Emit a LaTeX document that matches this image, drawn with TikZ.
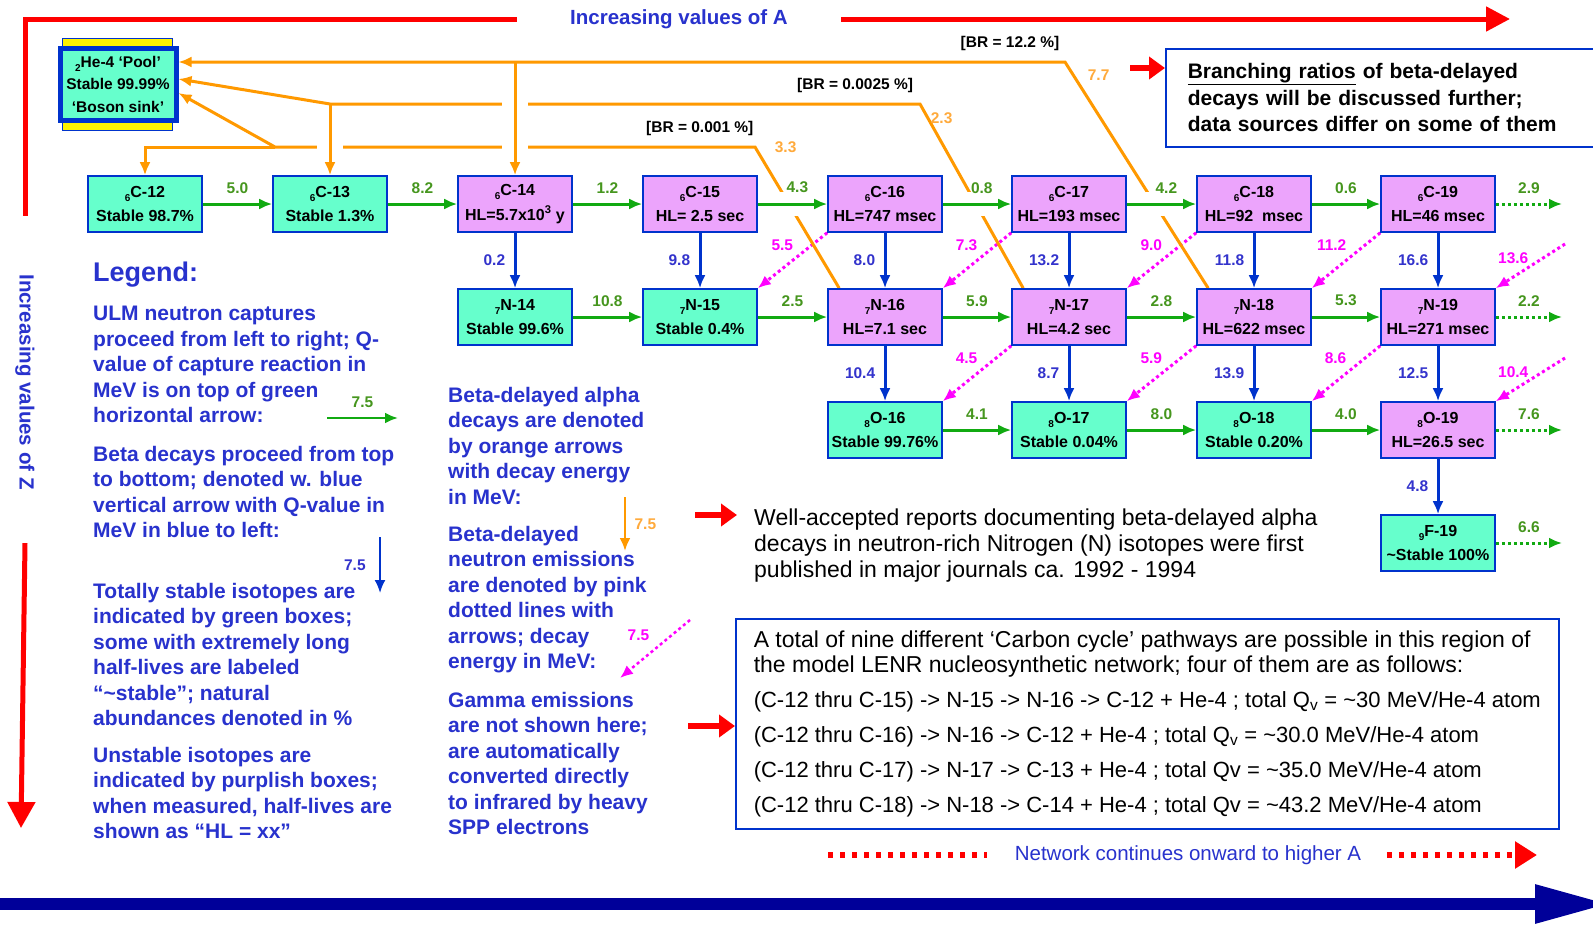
\documentclass[tikz,border=0pt]{standalone}
\usepackage{fontspec}
\setmainfont{Liberation Sans}
\usetikzlibrary{arrows.meta,positioning,backgrounds}

\definecolor{stablegreen}{RGB}{102,255,204}
\definecolor{unstablepink}{RGB}{236,164,252}
\definecolor{boxblue}{RGB}{0,51,204}
\definecolor{capgreen}{RGB}{17,170,17}
\definecolor{caplabel}{RGB}{70,150,30}
\definecolor{betablue}{RGB}{0,51,204}
\definecolor{betalabel}{RGB}{51,51,204}
\definecolor{alphaorange}{RGB}{255,153,0}
\definecolor{alphalabel}{RGB}{255,170,60}
\definecolor{neutronpink}{RGB}{255,0,255}
\definecolor{legendblue}{RGB}{40,50,205}
\definecolor{navyblue}{RGB}{0,0,153}

\newcommand{\iso}[2]{\raisebox{-.5ex}{\fontsize{10}{10}\selectfont #1}#2}
\newcommand{\qline}{\fontsize{22}{25}\selectfont}

\begin{document}
\begin{tikzpicture}[x=1pt, y=-1pt, >={Latex[length=13pt,width=11pt]},
  isobox/.style={shape=rectangle, draw=boxblue, line width=1.6pt, align=center,
    minimum width=114pt, minimum height=56pt, inner sep=0pt,
    font=\fontsize{16}{24.5}\selectfont\bfseries},
  stable/.style={isobox, fill=stablegreen},
  unstable/.style={isobox, fill=unstablepink},
  capture/.style={draw=capgreen, line width=3pt, ->},
  onward/.style={capture, dash pattern=on 3pt off 3pt},
  beta/.style={draw=betablue, line width=3pt, ->},
  alpha/.style={draw=alphaorange, line width=3pt},
  neutron/.style={draw=neutronpink, line width=3pt, dash pattern=on 3pt off 3pt, ->},
  halo/.style={preaction={draw=white, line width=24pt, -}},
  crossing/.style={preaction={draw=white, line width=26pt, -, shorten <=10pt, shorten >=16pt}},
  numlab/.style={font=\fontsize{15.5}{18}\selectfont\bfseries},
  caplab/.style={numlab, text=caplabel},
  betalab/.style={numlab, text=betalabel},
  neutlab/.style={numlab, text=neutronpink},
  alphalab/.style={numlab, text=alphalabel},
  brlab/.style={numlab},
  legend/.style={text=legendblue, align=left, anchor=north west, inner sep=0pt,
    font=\fontsize{21}{25.5}\selectfont\bfseries},
  pointer/.style={draw=red, line width=6pt, -{Triangle[length=16pt,width=22pt]}},
  redline/.style={draw=red, line width=5pt},
  reddots/.style={draw=red, line width=6pt, dash pattern=on 5pt off 7pt}]

\useasboundingbox (0,0) rectangle (1593,932);

% the He-4 pool
\node[draw=boxblue, line width=1pt, fill=yellow, minimum width=110pt,
  minimum height=92pt] (He4rim) at (117,84) {};
\node[draw=boxblue, line width=5pt, fill=stablegreen, align=center,
  minimum width=116pt, minimum height=72pt, inner sep=0pt,
  font=\fontsize{15.5}{22.5}\selectfont\bfseries] (He4) at (118,84)
  {\iso{2}{He-4} ‘Pool’\\Stable 99.99\%\\‘Boson sink’};

% Z = 6
\node[stable]   (C12) at (145,204)  {\iso{6}{C-12}\\Stable 98.7\%};
\node[stable]   (C13) at (330,204)  {\iso{6}{C-13}\\Stable 1.3\%};
\node[unstable] (C14) at (515,204)  {\iso{6}{C-14}\\HL=5.7x10\textsuperscript{3} y};
\node[unstable] (C15) at (700,204)  {\iso{6}{C-15}\\HL= 2.5 sec};
\node[unstable] (C16) at (885,204)  {\iso{6}{C-16}\\HL=747 msec};
\node[unstable] (C17) at (1069,204) {\iso{6}{C-17}\\HL=193 msec};
\node[unstable] (C18) at (1254,204) {\iso{6}{C-18}\\HL=92\ \ msec};
\node[unstable] (C19) at (1438,204) {\iso{6}{C-19}\\HL=46 msec};
% Z = 7
\node[stable]   (N14) at (515,317)  {\iso{7}{N-14}\\Stable 99.6\%};
\node[stable]   (N15) at (700,317)  {\iso{7}{N-15}\\Stable 0.4\%};
\node[unstable] (N16) at (885,317)  {\iso{7}{N-16}\\HL=7.1 sec};
\node[unstable] (N17) at (1069,317) {\iso{7}{N-17}\\HL=4.2 sec};
\node[unstable] (N18) at (1254,317) {\iso{7}{N-18}\\HL=622 msec};
\node[unstable] (N19) at (1438,317) {\iso{7}{N-19}\\HL=271 msec};
% Z = 8 and 9
\node[stable]   (O16) at (885,430)  {\iso{8}{O-16}\\Stable 99.76\%};
\node[stable]   (O17) at (1069,430) {\iso{8}{O-17}\\Stable 0.04\%};
\node[stable]   (O18) at (1254,430) {\iso{8}{O-18}\\Stable 0.20\%};
\node[unstable] (O19) at (1438,430) {\iso{8}{O-19}\\HL=26.5 sec};
\node[stable]   (F19) at (1438,543) {\iso{9}{F-19}\\\textasciitilde Stable 100\%};

% axes
\node[text=legendblue, font=\fontsize{20.5}{24}\selectfont\bfseries] (incA) at (679,19)
  {Increasing values of A};
\node[rotate=-90, text=legendblue, font=\fontsize{20.5}{24}\selectfont\bfseries] (incZ)
  at (25,382) {Increasing values of Z};

% legend
\node[legend, font=\fontsize{27}{30}\selectfont\bfseries] (leghead) at (93,262) {Legend:};
\node[legend] (legcap) at (93,306) {ULM neutron captures\\proceed from left to right; Q-\\value
  of capture reaction in\\MeV is on top of green\\horizontal arrow:};
\node[legend] (legbeta) at (93,446) {Beta decays proceed from top\\to bottom; denoted w. blue\\vertical
  arrow with Q-value in\\MeV in blue to left:};
\node[legend] (legstable) at (93,583) {Totally stable isotopes are\\indicated by green boxes;\\some
  with extremely long\\half-lives are labeled\\“\textasciitilde stable”; natural\\abundances denoted in \%};
\node[legend] (legunstable) at (93,747) {Unstable isotopes are\\indicated by purplish boxes;\\when
  measured, half-lives are\\shown as “HL = xx”};
\node[legend] (legalpha) at (448,387) {Beta-delayed alpha\\decays are denoted\\by orange
  arrows\\with decay energy\\in MeV:};
\node[legend] (legneut) at (448,526) {Beta-delayed\\neutron emissions\\are denoted by
  pink\\dotted lines with\\arrows; decay\\energy in MeV:};
\node[legend] (leggamma) at (448,692) {Gamma emissions\\are not shown here;\\are
  automatically\\converted directly\\to infrared by heavy\\SPP electrons};

% notes
\node[draw=boxblue, line width=1.6pt, anchor=north west, align=left, text width=390pt,
  minimum height=98pt, inner xsep=22pt, font=\fontsize{21}{26.5}\selectfont\bfseries]
  (brbox) at (1165,48) {\underline{Branching ratios} of beta-delayed\\decays will be
  discussed further;\\data sources differ on some of them};
\node[anchor=north west, inner sep=0pt, align=left, font=\fontsize{23}{26}\selectfont]
  (reports) at (754,509) {Well-accepted reports documenting beta-delayed alpha\\decays in
  neutron-rich Nitrogen (N) isotopes were first\\published in major journals ca. 1992 - 1994};
\node[draw=boxblue, line width=1.6pt, anchor=north west, align=left, minimum width=823pt,
  minimum height=210pt, font=\fontsize{23}{25}\selectfont] (cycbox) at (735,618)
  {A total of nine different ‘Carbon cycle’ pathways are possible in this region of\\
   the model LENR nucleosynthetic network; four of them are as follows:\\[10pt]
   \qline (C-12 thru C-15) -> N-15 -> N-16 -> C-12 + He-4 ; total Q\textsubscript{v} = \textasciitilde30 MeV/He-4 atom\\[10pt]
   \qline (C-12 thru C-16) -> N-16 -> C-12 + He-4 ; total Q\textsubscript{v} = \textasciitilde30.0 MeV/He-4 atom\\[10pt]
   \qline (C-12 thru C-17) -> N-17 -> C-13 + He-4 ; total Qv = \textasciitilde35.0 MeV/He-4 atom\\[10pt]
   \qline (C-12 thru C-18) -> N-18 -> C-14 + He-4 ; total Qv = \textasciitilde43.2 MeV/He-4 atom};
\node[text=legendblue, font=\fontsize{20.5}{24}\selectfont] (netnote) at (1188,855)
  {Network continues onward to higher A};

\coordinate (p1) at (1130,68);
\coordinate (p2) at (695,515);
\coordinate (p2end) at (737,515);
\coordinate (p3) at (688,726);
\draw[pointer] (p1) -- (p1 -| brbox.west);
\draw[pointer] (p2) -- (p2end);
\draw[pointer] (p3) -- (p3 -| cycbox.west);

\coordinate (net0) at (828,855);
\coordinate (net1) at (1537,855);
\draw[reddots] (net0) -- ([xshift=-24pt]netnote.west);
\draw[reddots, -{Triangle[length=22pt,width=26pt]}] ([xshift=22pt]netnote.east) -- (net1);

\coordinate (zfoot) at ([yshift=55pt]incZ.west);
\coordinate (ztop) at ([yshift=-50pt]incZ.east);
\coordinate (zTip) at (21,828);
\coordinate (aTip) at (1510,19);
\draw[redline] (zfoot) -- (zfoot |- incA) -- ([xshift=-50pt]incA.west);
\draw[redline, -{Triangle[length=24pt,width=24pt]}] ([xshift=50pt]incA.east) -- (aTip);
\draw[redline, -{Triangle[length=26pt,width=27pt]}] (ztop) -- (zTip);

\coordinate (navL) at (-10,904);
\coordinate (navR) at (1610,904);
\draw[draw=navyblue, line width=12pt, -{Triangle[length=75pt,width=36pt]}] (navL) -- (navR);

\begin{scope}[on background layer]
\fill[white] (0,0) rectangle (1593,932);

% beta-delayed neutron emissions
\coordinate (n20) at (1565,244);
\coordinate (o20) at (1565,358);
\draw[neutron] (C16.south west) -- node[pos=.22, left=14pt, neutlab] {5.5} (N15.north east);
\draw[neutron] (C17.south west) -- node[pos=.22, left=14pt, neutlab] {7.3} (N16.north east);
\draw[neutron] (C18.south west) -- node[pos=.22, left=14pt, neutlab] {9.0} (N17.north east);
\draw[neutron] (C19.south west) -- node[pos=.22, left=14pt, neutlab] {11.2} (N18.north east);
\draw[neutron] (n20) -- node[pos=.33, left=9pt, neutlab] {13.6} (N19.north east);
\draw[neutron] (N17.south west) -- node[pos=.22, left=14pt, neutlab] {4.5} (O16.north east);
\draw[neutron] (N18.south west) -- node[pos=.22, left=14pt, neutlab] {5.9} (O17.north east);
\draw[neutron] (N19.south west) -- node[pos=.22, left=14pt, neutlab] {8.6} (O18.north east);
\draw[neutron] (o20) -- node[pos=.33, left=9pt, neutlab] {10.4} (O19.north east);

% beta-delayed alphas back to the pool
\coordinate (kinkA) at (1065,62);
\coordinate (kinkB) at (920,104);
\coordinate (kinkC) at (755,147);
\coordinate (forkC) at (275,147);
\draw[alpha, ->] ([xshift=12pt]N18.north west) -- (kinkA)
  -- node[pos=0, right=18pt, yshift=-13pt, alphalab] {7.7}
     node[pos=.062, above=6pt, brlab] {[BR = 12.2 \%]} ([yshift=22pt]He4.east);
\draw[alpha, ->] ([xshift=12pt]N17.north west) -- (kinkB)
  -- node[pos=0, right=6pt, yshift=-14pt, alphalab] {2.3}
     node[pos=.11, above=6pt, brlab] {[BR = 0.0025 \%]} (C13 |- kinkB)
  -- ([yshift=5pt]He4.east);
\draw[alpha, ->] ([xshift=12pt]N16.north west) -- (kinkC)
  -- node[pos=0, right=15pt, alphalab] {3.3}
     node[pos=.115, above=6pt, brlab] {[BR = 0.001 \%]} (forkC)
  -- ([yshift=-9pt]He4.east);
\draw[alpha, ->] (forkC) -- (C12 |- forkC) -- (C12.north);
\draw[alpha, ->, crossing] (C13 |- kinkB) -- (C13.north);
\draw[alpha, ->, crossing] (C14 |- kinkA) -- (C14.north);

% neutron captures
\coordinate (endC) at (1562,204);
\coordinate (endN) at (1562,317);
\coordinate (endO) at (1562,430);
\coordinate (endF) at (1562,543);
\draw[capture, halo] (C12) -- node[above=6pt, caplab] {5.0} (C13);
\draw[capture, halo] (C13) -- node[above=6pt, caplab] {8.2} (C14);
\draw[capture, halo] (C14) -- node[above=6pt, caplab] {1.2} (C15);
\draw[capture, halo] (C15) -- node[pos=.57, above=6pt, caplab] {4.3} (C16);
\draw[capture, halo] (C16) -- node[pos=.57, above=6pt, caplab] {0.8} (C17);
\draw[capture, halo] (C17) -- node[pos=.57, above=6pt, caplab] {4.2} (C18);
\draw[capture, halo] (C18) -- node[above=6pt, caplab] {0.6} (C19);
\draw[onward, halo] (C19) -- node[above=6pt, caplab] {2.9} (endC);
\draw[capture] (N14) -- node[above=6pt, caplab] {10.8} (N15);
\draw[capture] (N15) -- node[above=6pt, caplab] {2.5} (N16);
\draw[capture] (N16) -- node[above=6pt, caplab] {5.9} (N17);
\draw[capture] (N17) -- node[above=6pt, caplab] {2.8} (N18);
\draw[capture] (N18) -- node[above=6pt, caplab] {5.3} (N19);
\draw[onward] (N19) -- node[above=6pt, caplab] {2.2} (endN);
\draw[capture] (O16) -- node[above=6pt, caplab] {4.1} (O17);
\draw[capture] (O17) -- node[above=6pt, caplab] {8.0} (O18);
\draw[capture] (O18) -- node[above=6pt, caplab] {4.0} (O19);
\draw[onward] (O19) -- node[above=6pt, caplab] {7.6} (endO);
\draw[onward] (F19) -- node[above=6pt, caplab] {6.6} (endF);

% beta decays
\draw[beta] (C14) -- node[left=5pt, betalab] {0.2} (N14);
\draw[beta] (C15) -- node[left=5pt, betalab] {9.8} (N15);
\draw[beta] (C16) -- node[left=5pt, betalab] {8.0} (N16);
\draw[beta] (C17) -- node[left=5pt, betalab] {13.2} (N17);
\draw[beta] (C18) -- node[left=5pt, betalab] {11.8} (N18);
\draw[beta] (C19) -- node[left=5pt, betalab] {16.6} (N19);
\draw[beta] (N16) -- node[left=5pt, betalab] {10.4} (O16);
\draw[beta] (N17) -- node[left=5pt, betalab] {8.7} (O17);
\draw[beta] (N18) -- node[left=5pt, betalab] {13.9} (O18);
\draw[beta] (N19) -- node[left=5pt, betalab] {12.5} (O19);
\draw[beta] (O19) -- node[left=5pt, betalab] {4.8} (F19);

% legend samples
\coordinate (lgA) at (327,418);
\coordinate (lgB) at (398,418);
\coordinate (lbA) at (380,537);
\coordinate (lbB) at (380,593);
\coordinate (laA) at (625,497);
\coordinate (laB) at (625,551);
\coordinate (lnA) at (690,620);
\coordinate (lnB) at (620,678);
\draw[capture, line width=2.5pt] (lgA) -- node[above=6pt, caplab] {7.5} (lgB);
\draw[beta, line width=2pt] (lbA) -- node[left=10pt, betalab] {7.5} (lbB);
\draw[alpha, ->, line width=2.5pt] (laA) -- node[right=5pt, alphalab] {7.5} (laB);
\draw[neutron, line width=2.5pt] (lnA) -- node[pos=.26, left=18pt, neutlab] {7.5} (lnB);
\end{scope}
\end{tikzpicture}
\end{document}
